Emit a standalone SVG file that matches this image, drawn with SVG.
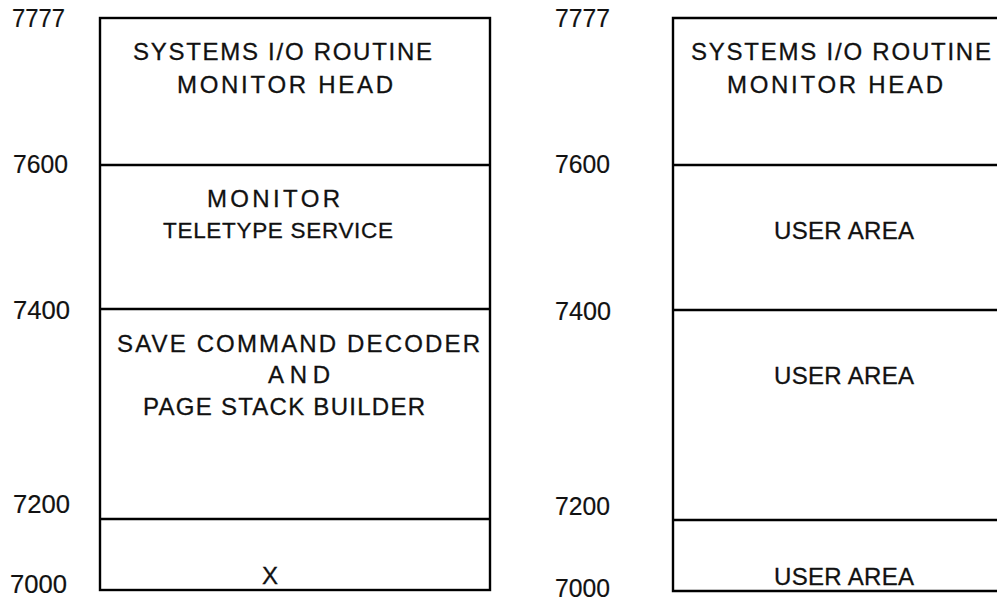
<svg xmlns="http://www.w3.org/2000/svg" width="997" height="601" viewBox="0 0 997 601">
<style>
.bg{fill:#ffffff}
.box{fill:none;stroke:#000;stroke-width:2.4}
.div{stroke:#000;stroke-width:2.4}
.t{font-family:"Liberation Sans",Arial,sans-serif;font-size:24px;fill:#111;stroke:#111;stroke-width:0.3}
.s{font-size:22.5px}
.n{font-family:"Liberation Sans",Arial,sans-serif;font-size:25px;fill:#111;stroke:#111;stroke-width:0.2}
</style>
<rect class="bg" x="0" y="0" width="997" height="601"/>
<g id="left-map">
  <rect class="box" x="100" y="18" width="390" height="572"/>
  <g id="l-7777">
    <text class="n" x="12" y="27" textLength="53" lengthAdjust="spacingAndGlyphs">7777</text>
    <text class="t" x="133" y="60" textLength="299" lengthAdjust="spacing">SYSTEMS I/O ROUTINE</text>
    <text class="t" x="177" y="93" textLength="216" lengthAdjust="spacing">MONITOR HEAD</text>
  </g>
  <g id="l-7600">
    <line class="div" x1="100" y1="165" x2="490" y2="165"/>
    <text class="n" x="13" y="173" textLength="55" lengthAdjust="spacingAndGlyphs">7600</text>
    <text class="t" x="207" y="207" textLength="133" lengthAdjust="spacing">MONITOR</text>
    <text class="t s" x="163" y="238" textLength="230" lengthAdjust="spacing">TELETYPE SERVICE</text>
  </g>
  <g id="l-7400">
    <line class="div" x1="100" y1="309" x2="490" y2="309"/>
    <text class="n" x="13" y="319" textLength="57" lengthAdjust="spacingAndGlyphs">7400</text>
    <text class="t" x="117" y="352" textLength="363" lengthAdjust="spacing">SAVE COMMAND DECODER</text>
    <text class="t" x="268" y="383" textLength="62" lengthAdjust="spacing">AND</text>
    <text class="t" x="143" y="415" textLength="282" lengthAdjust="spacing">PAGE STACK BUILDER</text>
  </g>
  <g id="l-7200">
    <line class="div" x1="100" y1="519" x2="490" y2="519"/>
    <text class="n" x="13" y="513" textLength="57" lengthAdjust="spacingAndGlyphs">7200</text>
    <text class="t" x="262" y="584">X</text>
  </g>
  <g id="l-7000">
    <text class="n" x="10" y="593" textLength="57" lengthAdjust="spacingAndGlyphs">7000</text>
  </g>
</g>
<g id="right-map">
  <polyline class="box" points="997,18 673,18 673,591 997,591"/>
  <g id="r-7777">
    <text class="n" x="555" y="27" textLength="55" lengthAdjust="spacingAndGlyphs">7777</text>
    <text class="t" x="691" y="60" textLength="300" lengthAdjust="spacing">SYSTEMS I/O ROUTINE</text>
    <text class="t" x="727" y="93" textLength="216" lengthAdjust="spacing">MONITOR HEAD</text>
  </g>
  <g id="r-7600">
    <line class="div" x1="673" y1="165" x2="997" y2="165"/>
    <text class="n" x="555" y="173" textLength="55" lengthAdjust="spacingAndGlyphs">7600</text>
    <text class="t" x="774" y="239" textLength="140" lengthAdjust="spacing">USER AREA</text>
  </g>
  <g id="r-7400">
    <line class="div" x1="673" y1="310" x2="997" y2="310"/>
    <text class="n" x="555" y="320" textLength="56" lengthAdjust="spacingAndGlyphs">7400</text>
    <text class="t" x="774" y="384" textLength="140" lengthAdjust="spacing">USER AREA</text>
  </g>
  <g id="r-7200">
    <line class="div" x1="673" y1="520" x2="997" y2="520"/>
    <text class="n" x="555" y="515" textLength="55" lengthAdjust="spacingAndGlyphs">7200</text>
    <text class="t" x="774" y="585" textLength="140" lengthAdjust="spacing">USER AREA</text>
  </g>
  <g id="r-7000">
    <text class="n" x="555" y="597" textLength="55" lengthAdjust="spacingAndGlyphs">7000</text>
  </g>
</g>
</svg>
